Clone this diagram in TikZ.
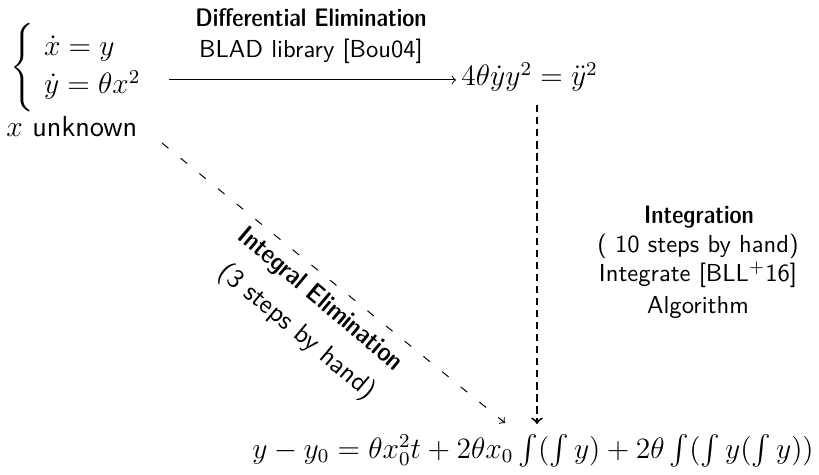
\documentclass[tikz,border=0pt]{standalone}
\usepackage{amsmath}
\usetikzlibrary{arrows}
\begin{document}
\begin{tikzpicture}[x=0.4066pt,y=-0.4066pt,
  lbl/.style={font=\sffamily, inner sep=0pt},
  blbl/.style={font=\fontsize{10.3}{12}\sffamily\fontseries{sbc}\selectfont, inner sep=0pt},
  rlbl/.style={font=\fontsize{10.8}{13}\sffamily, inner sep=0pt, rotate=-40},
  rblbl/.style={font=\fontsize{10.8}{13}\sffamily\fontseries{sbc}\selectfont, inner sep=0pt, rotate=-40},
  mth/.style={font=\fontsize{11.8}{14}\selectfont, inner sep=0pt}]
\useasboundingbox (0,0) rectangle (819,475);
\node[mth, anchor=west] (sys) at (10,68) {$\left\{\vrule height 21pt depth 15pt width 0pt\begin{array}{@{\hspace{4pt}}l}\dot x = y\\[1.5pt] \dot y = \theta x^2\end{array}\right.$};
\node[mth, font=\fontsize{11.8}{14}\sffamily, anchor=west] (unk) at (6,127) {$x$ unknown};
\node[mth, anchor=west] (ode) at (461,77) {$4\theta\dot y y^2 = \ddot y^2$};
\node[mth, anchor=west] (res) at (252,451) {$y - y_0 = \theta x_0^2 t + 2\theta x_0 \int(\int y) + 2\theta \int(\int y(\int y))$};
\coordinate (hs) at (169,80);
\draw[->, shorten >=2pt] (hs) -- (hs -| ode.west);
\node[blbl] (de) at (311,18) {Differential Elimination};
\node[lbl] (blad) at (311,51) {BLAD library [Bou04]};
\coordinate (vs) at (537,105);
\coordinate (ve) at (537,424);
\draw[->, thick, dash pattern=on 3pt off 1.9pt] (vs) -- (ve);
\node[blbl] (int1) at (699,217) {Integration};
\node[lbl] (int2) at (698,246) {( 10 steps by hand)};
\node[lbl] (int3) at (698,275) {Integrate [BLL$^+$16]};
\node[lbl] (int4) at (698,308) {Algorithm};
\coordinate (ds) at (162,143);
\coordinate (dt) at (505,423);
\draw[->, dash pattern=on 3.4pt off 6.4pt] (ds) -- (dt);
\node[rblbl] (ie1) at (320,300) {Integral Elimination};
\node[rlbl] (ie2) at (297,332) {(3 steps by hand)};
\end{tikzpicture}
\end{document}
